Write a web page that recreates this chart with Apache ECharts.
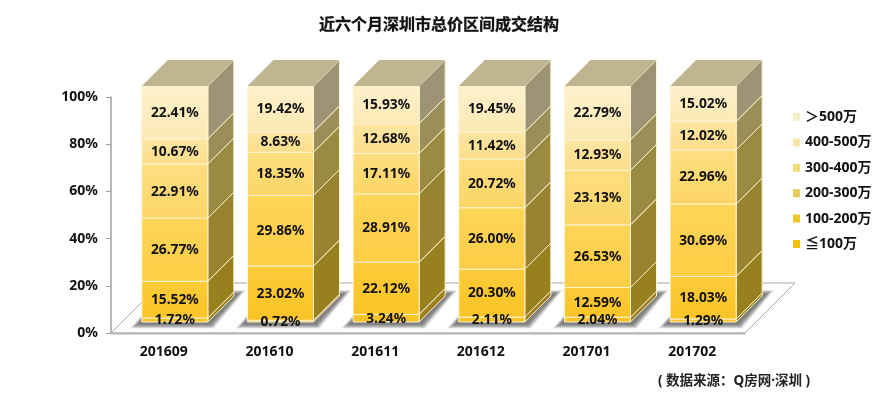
<!DOCTYPE html>
<html><head><meta charset="utf-8">
<style>html,body{margin:0;padding:0;background:#fff}#c{width:877px;height:395px}</style>
<script src="https://cdn.jsdelivr.net/npm/echarts@6/dist/echarts.min.js"></script>
</head><body><div id="c"></div>
<script>
const categories = ['201609','201610','201611','201612','201701','201702'];
const seriesNames = ['≦100万','100-200万','200-300万','300-400万','400-500万','＞500万'];
const le100 = [1.72,0.72,3.24,2.11,2.04,1.29];
const r100to200 = [15.52,23.02,22.12,20.30,12.59,18.03];
const r200to300 = [26.77,29.86,28.91,26.00,26.53,30.69];
const r300to400 = [22.91,18.35,17.11,20.72,23.13,22.96];
const r400to500 = [10.67,8.63,12.68,11.42,12.93,12.02];
const gt500 = [22.41,19.42,15.93,19.45,22.79,15.02];
const seriesValues = [le100,r100to200,r200to300,r300to400,r400to500,gt500];
const yTicks = [0,20,40,60,80,100];

const frontTop = ['#f9c82c','#fdcb3a','#fdd558','#fdde80','#fde6a4','#fdf1cc'];
const frontBot = ['#f7c021','#fbc426','#fdcd44','#fcd566','#fcdd8a','#fce9b4'];
const sideColor = ['#9c8020','#98801f','#9a8330','#9a8a42','#9b8f58','#9c9474'];
const legendColor = ['#f2bf10','#eec52e','#e9cd5c','#f3dc80','#f6e4a8','#f8efc8'];
const edge = '#fdf3cf';
const font = '"Noto Sans","Noto Sans CJK SC",sans-serif';
const DEPTH = 26, OFF = 11, BAR_W = 66, FLOOR = 50;
const shadowShades = ['#e4e4e4','#c4c4c4','#a0a0a0','#8a8a8a','#808080','#7a7a7a','#787878'];

function grad(a,b){return {type:'linear',x:0,y:0,x2:0,y2:1,colorStops:[{offset:0,color:a},{offset:1,color:b}]};}

function renderFloor(params, api){
  const cs = params.coordSys;
  const x0 = cs.x, x1 = cs.x + cs.width, y = cs.y + cs.height;
  const children = [{
    type:'polygon', silent:true,
    shape:{points:[[x0,y],[x1,y],[x1+FLOOR,y-FLOOR],[x0+FLOOR,y-FLOOR]]},
    style:{fill:'#fff',stroke:'#a8a8a8',lineWidth:1}
  },{
    type:'line', silent:true,
    shape:{x1:x0,y1:y+0.5,x2:x1,y2:y+0.5},
    style:{stroke:'#b4b4b4',lineWidth:2}
  }];
  categories.forEach((c,i)=>{
    const p = api.coord([i,0]);
    const cx = p[0]+OFF, by = p[1]-OFF;
    const l = cx-BAR_W/2, r = cx+BAR_W/2;
    shadowShades.forEach((shade,k)=>{
      const g = (shadowShades.length-1-k)*2;
      children.push({
        type:'polygon', silent:true,
        shape:{points:[[l-g,by+g*0.55],[r+g*0.5,by+g*0.55],[r+DEPTH+g,by-DEPTH-g*0.5],[l+22,by-DEPTH-g*0.5]]},
        style:{fill:shade}
      });
    });
  });
  return {type:'group',children};
}

function renderSeg(sIdx){
  return function(params, api){
    const i = api.value(0), val = api.value(1), base = api.value(2);
    const pb = api.coord([i,base]), pt = api.coord([i,base+val]);
    const cx = pb[0]+OFF, yb = pb[1]-OFF, yt = pt[1]-OFF;
    const l = cx-BAR_W/2, r = cx+BAR_W/2;
    const ch = [
      {type:'polygon',shape:{points:[[r,yb],[r+DEPTH,yb-DEPTH],[r+DEPTH,yt-DEPTH],[r,yt]]},
       style:{fill:sideColor[sIdx],stroke:edge,lineWidth:1}},
      {type:'rect',shape:{x:l,y:yt,width:BAR_W,height:yb-yt},
       style:{fill:grad(frontTop[sIdx],frontBot[sIdx]),stroke:edge,lineWidth:1}}
    ];
    if(sIdx===seriesNames.length-1){
      ch.push({type:'polygon',shape:{points:[[l,yt],[r,yt],[r+DEPTH,yt-DEPTH],[l+DEPTH,yt-DEPTH]]},
        style:{fill:'#c0b591'}});
    }
    ch.push({type:'text',z2:10,style:{x:(l+r)/2,y:(yb+yt)/2+0.5,text:val.toFixed(2)+'%',
      align:'center',verticalAlign:'middle',fill:'#111',font:'bold 13.8px '+font}});
    return {type:'group',children:ch};
  };
}

const series = [{
  type:'custom',name:'floor',silent:true,z:1,
  data:[[0]],encode:{x:0},renderItem:renderFloor
}];
seriesNames.forEach((n,s)=>{
  series.push({
    type:'custom',name:n,z:2,silent:true,
    itemStyle:{color:legendColor[s]},
    encode:{x:0,y:1},
    data:categories.map((c,i)=>{
      let b=0; for(let k=0;k<s;k++) b+=seriesValues[k][i];
      return [i,seriesValues[s][i],b];
    }),
    renderItem:renderSeg(s)
  });
});

const chart = echarts.init(document.getElementById('c'),null,{renderer:'canvas'});
chart.setOption({
  animation:false,
  backgroundColor:'#fff',
  title:[{text:'近六个月深圳市总价区间成交结构',left:434,top:12,textAlign:'center',
    textStyle:{fontFamily:font,fontSize:16,fontWeight:'bold',color:'#111',textBorderColor:'#111',textBorderWidth:0.3}},
   {text:'( 数据来源：Q房网·深圳 )',left:653,top:369,
    textStyle:{fontFamily:font,fontSize:13.5,fontWeight:'bold',color:'#222'}}],
  grid:{left:111,right:132,top:97,bottom:62},
  legend:{orient:'vertical',left:788,top:103.5,itemWidth:7,itemHeight:8,itemGap:8.4,icon:'rect',selectedMode:false,
    data:seriesNames.slice().reverse(),
    textStyle:{fontFamily:font,fontSize:14,fontWeight:'bold',color:'#111',padding:[0,0,0,0],height:17,lineHeight:17}},
  xAxis:{type:'category',data:categories,
    axisLine:{lineStyle:{color:'#b0b0b0',width:1}},
    axisTick:{length:5,lineStyle:{color:'#a0a0a0'}},
    axisLabel:{margin:12,fontFamily:font,fontSize:14,fontWeight:'bold',color:'#111'}},
  yAxis:{type:'value',min:0,max:100,interval:20,
    splitLine:{show:false},
    axisLine:{show:true,lineStyle:{color:'#a0a0a0',width:1.5}},
    axisTick:{show:true,length:5,lineStyle:{color:'#a0a0a0'}},
    axisLabel:{margin:13,fontFamily:font,fontSize:14,fontWeight:'bold',color:'#111',
      formatter:v=>yTicks.includes(v)?v+'%':''}},
  series
});
</script></body></html>
